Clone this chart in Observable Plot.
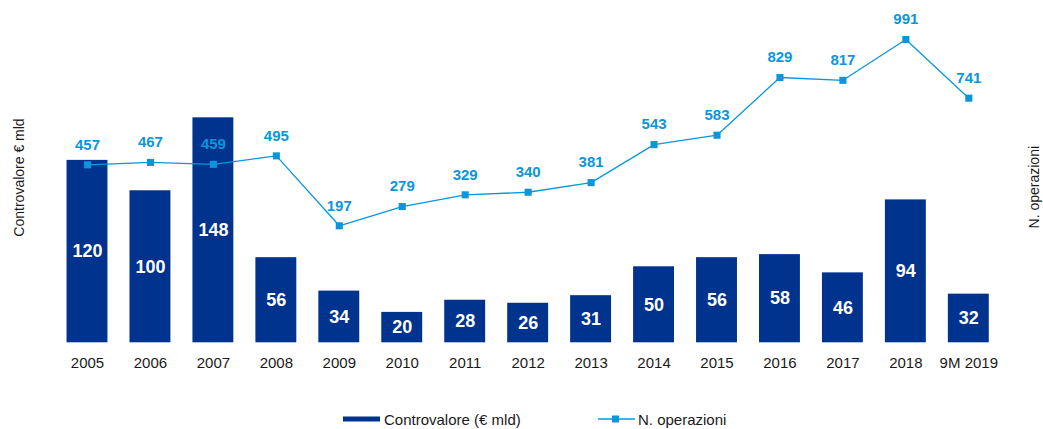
<!DOCTYPE html>
<html>
<head>
<meta charset="utf-8">
<script src="https://cdn.jsdelivr.net/npm/d3@7"></script>
<script src="https://cdn.jsdelivr.net/npm/@observablehq/plot@0.6"></script>
<style>
  html, body { margin: 0; padding: 0; background: #fff; }
  body { font-family: "Liberation Sans", Arial, sans-serif; width: 1043px; }
  #legend { position: relative; height: 34px; width: 1043px; font-size: 15px; color: #1a1a1a; }
  #legend .item { position: absolute; top: 0; height: 34px; display: flex; align-items: center; }
  #legend svg { display: block; }
</style>
</head>
<body>
<div id="chart"></div>
<div id="legend">
  <div class="item" style="left:343px; top:7px;">
    <svg width="37" height="6"><rect x="0" y="0.5" width="37" height="5" fill="#00338D"></rect></svg>
    <span style="margin-left:4px;">Controvalore (€ mld)</span>
  </div>
  <div class="item" style="left:598px; top:7px;">
    <svg width="37" height="10"><line x1="0" y1="5" x2="37" y2="5" stroke="#0B96DB" stroke-width="1.3"></line><rect x="14" y="1.5" width="7" height="7" fill="#0B96DB"></rect></svg>
    <span style="margin-left:3px;">N. operazioni</span>
  </div>
</div>
<script>
const years = ["2005","2006","2007","2008","2009","2010","2011","2012","2013","2014","2015","2016","2017","2018","9M 2019"];
const controvalore = [120,100,148,56,34,20,28,26,31,50,56,58,46,94,32];
const operazioni = [457,467,459,495,197,279,329,340,381,543,583,829,817,991,741];

const barColor = "#00338D";
const lineColor = "#0B96DB";

const data = years.map((y, i) => ({year: y, c: controvalore[i], n: operazioni[i]}));

// secondary axis (N. operazioni) mapped into primary units
const opsToY = d3.scaleLinear().domain([0, 991]).range([46.57, 199.5]);

const chart = Plot.plot({
  width: 1043,
  height: 395,
  marginLeft: 44.5,
  marginRight: 32.2,
  marginTop: 10,
  marginBottom: 52,
  style: {fontFamily: '"Liberation Sans", Arial, sans-serif', background: "#fff"},
  x: {domain: years, range: [44.5, 1010.8], padding: 0.35, round: false, label: null},
  y: {domain: [0, 148], range: [342.3, 117.3], axis: null},
  marks: [
    Plot.barY(data, {x: "year", y: "c", fill: barColor}),
    Plot.text(data, {x: "year", y: d => d.c / 2, text: d => String(d.c), fill: "#fff", fontWeight: "bold", fontSize: 18}),
    Plot.line(data, {x: "year", y: d => opsToY(d.n), stroke: lineColor, strokeWidth: 1.3}),
    Plot.dot(data, {x: "year", y: d => opsToY(d.n), symbol: "square", r: 4, fill: lineColor, stroke: "none"}),
    Plot.text(data, {x: "year", y: d => opsToY(d.n), dy: -20, text: d => String(d.n), fill: lineColor, fontWeight: "bold", fontSize: 15}),
    Plot.axisX({tickSize: 0, tickPadding: 13.6, fontSize: 15, color: "#1a1a1a", label: null}),
    Plot.text(["Controvalore € mld"], {frameAnchor: "left", textAnchor: "middle", dx: -25.5, dy: 0.5, rotate: -90, fontSize: 14, fill: "#1a1a1a"}),
    Plot.text(["N. operazioni"], {frameAnchor: "right", textAnchor: "middle", dx: 23, dy: 10.2, rotate: -90, fontSize: 14, fill: "#1a1a1a"})
  ]
});
document.getElementById("chart").appendChild(chart);
</script>
</body>
</html>
